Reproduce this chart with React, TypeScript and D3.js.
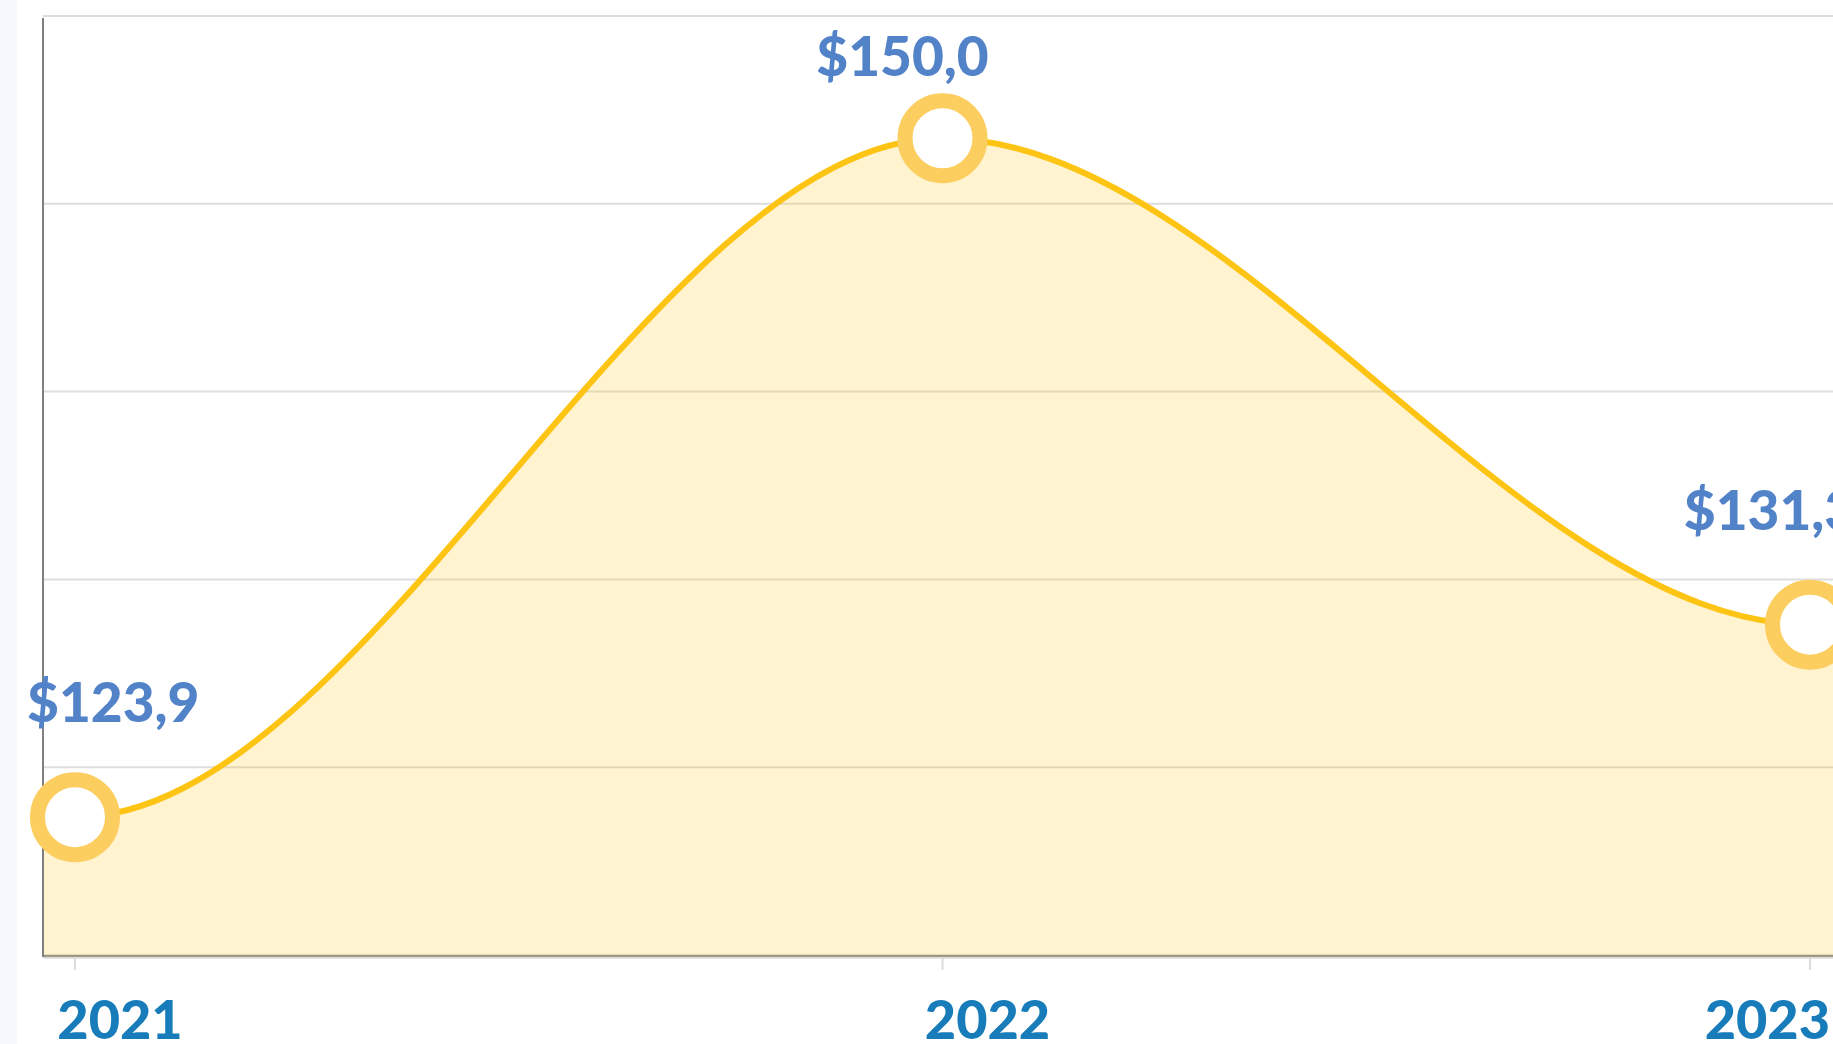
import * as d3 from 'd3'

// data
const years = ['2021', '2022', '2023']
const revenue = [123.9, 150.0, 131.3]
const valueLabels = ['$123,9', '$150,0', '$131,3']

const W = 1833
const H = 1044
const plot = { left: 43, top: 16, right: W, bottom: 955 }
const yDomain = [118.6, 154.7]
const gridCount = 5

const lineColor = '#fdc414'
const font = 'Lato, "Noto Sans", sans-serif'

let ctx: CanvasRenderingContext2D | null = null
function textWidth(s: string, size: number) {
  if (!ctx) ctx = document.createElement('canvas').getContext('2d')
  if (!ctx) return s.length * size * 0.55
  ctx.font = `900 ${size}px ${font}`
  return ctx.measureText(s).width
}

export default function App() {
  const x = d3.scalePoint<string>().domain(years).range([75, 1810])
  const y = d3.scaleLinear().domain(yDomain).range([plot.bottom, plot.top])

  const pts: [number, number][] = years.map((yr, i) => [x(yr) as number, y(revenue[i])])
  // carry the line on to the plot edges at the end values
  const ext: [number, number][] = [
    [plot.left, pts[0][1]],
    ...pts,
    [plot.right, pts[pts.length - 1][1]],
  ]

  const line = d3.line().curve(d3.curveMonotoneX)
  const area = d3.area<[number, number]>()
    .x(d => d[0])
    .y0(plot.bottom)
    .y1(d => d[1])
    .curve(d3.curveMonotoneX)

  const grid = d3.range(gridCount + 1).map(i => yDomain[0] + (yDomain[1] - yDomain[0]) * i / gridCount)

  const labelSize = 55
  const yearSize = 54

  return (
    <svg width={W} height={H} style={{ position: 'absolute', left: 0, top: 0, display: 'block' }}>
      <rect x={0} y={0} width={W} height={H} fill="#fff" />
      <rect x={0} y={0} width={17} height={H} fill="#f7f8fd" />

      {grid.map((v, i) => (
        <line key={i} x1={plot.left} x2={plot.right} y1={y(v)} y2={y(v)} stroke="#dedede" strokeWidth={2} />
      ))}

      <path d={area(ext) || ''} fill={lineColor} fillOpacity={0.2} />

      {/* x axis */}
      <line x1={plot.left} x2={plot.right} y1={957.8} y2={957.8} stroke="#dcdcdc" strokeWidth={2} />
      {years.map(yr => (
        <line key={yr} x1={x(yr)} x2={x(yr)} y1={958} y2={970} stroke="#dcdcdc" strokeWidth={2} />
      ))}
      <line x1={plot.left} x2={plot.right} y1={956} y2={956} stroke="#857c68" strokeWidth={1.5} />
      <line x1={plot.left} x2={plot.left} y1={18} y2={957} stroke="#808080" strokeWidth={2} />

      <path d={line(ext) || ''} fill="none" stroke={lineColor} strokeWidth={6} />

      {pts.map((p, i) => (
        <circle key={years[i]} cx={p[0]} cy={p[1]} r={37.5} fill="#fff" stroke="#fccd5f" strokeWidth={15} />
      ))}

      {pts.map((p, i) => {
        const w = textWidth(valueLabels[i], labelSize)
        const cx = Math.max(p[0] - 40, 27 + w / 2)
        const by = Math.max(p[1] - 95, plot.top + 60)
        return (
          <text key={years[i]} x={cx} y={by} textAnchor="middle" fontFamily={font} fontWeight={900}
            fontSize={labelSize} fill="#5283c9">{valueLabels[i]}</text>
        )
      })}

      {years.map(yr => {
        const w = textWidth(yr, yearSize)
        const cx = Math.min((x(yr) as number) + 45, W - 3 - w / 2)
        return (
          <text key={yr} x={cx} y={1039} textAnchor="middle" fontFamily={font} fontWeight={900}
            fontSize={yearSize} fill="#177cb9">{yr}</text>
        )
      })}
    </svg>
  )
}
